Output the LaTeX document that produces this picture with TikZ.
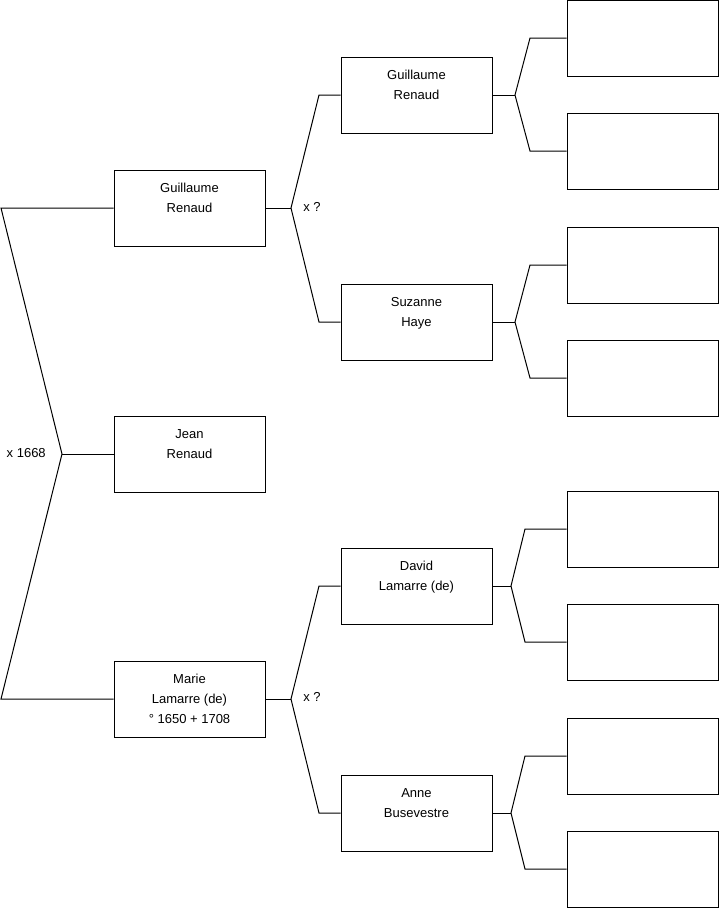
\documentclass[tikz,border=0pt]{standalone}
\usepackage{fontspec}
\setmainfont{Liberation Sans}
\usetikzlibrary{positioning, calc}

\begin{document}
\begin{tikzpicture}[
  x=0.75pt, y=-0.75pt,
  person/.style={draw, line width=0.75pt, minimum width=113.25pt, minimum height=57pt,
    inner sep=0pt, align=center, font=\fontsize{9.75}{15}\selectfont},
  empty/.style={person},
  link/.style={line width=0.75pt},
  mar/.style={font=\fontsize{9.75}{11}\selectfont, inner sep=0pt},
]
\useasboundingbox (0,0) rectangle (719,908);

%% Generation 1
\node[person] (guil1) at (189.5,208) {Guillaume\\Renaud\\~};
\node[person] (jean) at (189.5,454) {Jean\\Renaud\\~};
\node[person] (marie) at (189.5,699) {Marie\\Lamarre (de)\\° 1650 + 1708};

%% Generation 2
\node[person] (guil2) at (416.5,95) {Guillaume\\Renaud\\~};
\node[person] (suz) at (416.5,322) {Suzanne\\Haye\\~};
\node[person] (david) at (416.5,586) {David\\Lamarre (de)\\~};
\node[person] (anne) at (416.5,813) {Anne\\Busevestre\\~};

%% Generation 3 (empty)
\node[empty] (e1) at (642.5,38) {};
\node[empty] (e2) at (642.5,151) {};
\node[empty] (e3) at (642.5,265) {};
\node[empty] (e4) at (642.5,378) {};
\node[empty] (e5) at (642.5,529) {};
\node[empty] (e6) at (642.5,642) {};
\node[empty] (e7) at (642.5,756) {};
\node[empty] (e8) at (642.5,869) {};

%% Parents of Jean
\coordinate (top0) at (1,0 |- guil1.west);
\coordinate (bot0) at (1,0 |- marie.west);
\coordinate (fork0) at (62,0 |- jean.west);
\draw[link] (guil1.west) -- (top0) -- (fork0) -- (bot0) -- (marie.west);
\draw[link] (fork0) -- (jean.west);
\node[mar, left=12pt of fork0, yshift=1pt] (m0) {x 1668};

%% Parents of Guillaume
\coordinate (fork1) at (291,0 |- guil1.east);
\coordinate (top1) at (319,0 |- guil2.west);
\coordinate (bot1) at (319,0 |- suz.west);
\draw[link] (guil1.east) -- (fork1);
\draw[link] (guil2.west) -- (top1) -- (fork1) -- (bot1) -- (suz.west);
\node[mar, right=9pt of fork1, yshift=1pt] (m1) {x ?};

%% Parents of Marie
\coordinate (fork2) at (291,0 |- marie.east);
\coordinate (top2) at (319,0 |- david.west);
\coordinate (bot2) at (319,0 |- anne.west);
\draw[link] (marie.east) -- (fork2);
\draw[link] (david.west) -- (top2) -- (fork2) -- (bot2) -- (anne.west);
\node[mar, right=9pt of fork2, yshift=1.5pt] (m2) {x ?};

%% Parents of generation 2
\foreach \p/\a/\b/\fx/\bx in {guil2/e1/e2/515/530, suz/e3/e4/515/530,
                              david/e5/e6/511/525, anne/e7/e8/511/525} {
  \coordinate (f-\p) at (\fx,0 |- \p.east);
  \coordinate (t-\p) at (\bx,0 |- \a.west);
  \coordinate (b-\p) at (\bx,0 |- \b.west);
  \draw[link] (\p.east) -- (f-\p);
  \draw[link] (\a.west) -- (t-\p) -- (f-\p) -- (b-\p) -- (\b.west);
}

\end{tikzpicture}
\end{document}
